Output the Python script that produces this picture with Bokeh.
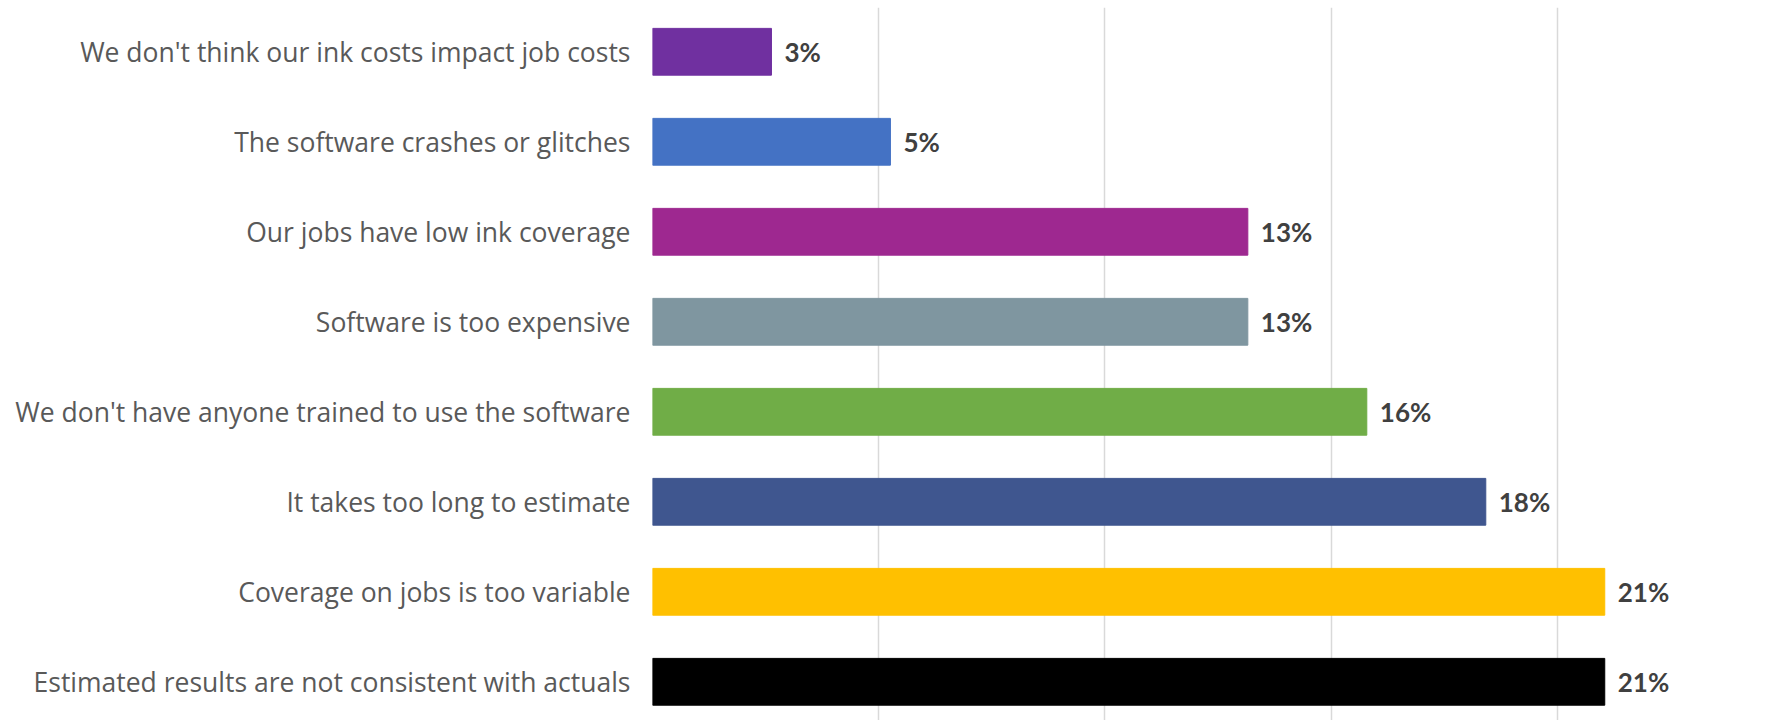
from bokeh.plotting import figure
from bokeh.models import ColumnDataSource, Range1d, FixedTicker, LabelSet
from bokeh.embed import file_html
from bokeh.resources import INLINE
from bokeh.core.properties import value

categories = [
    "We don't think our ink costs impact job costs",
    "The software crashes or glitches",
    "Our jobs have low ink coverage",
    "Software is too expensive",
    "We don't have anyone trained to use the software",
    "It takes too long to estimate",
    "Coverage on jobs is too variable",
    "Estimated results are not consistent with actuals",
]
percentages = [2.63, 5.26, 13.16, 13.16, 15.79, 18.42, 21.05, 21.05]
value_labels = ["3%", "5%", "13%", "13%", "16%", "18%", "21%", "21%"]
colors = ["#7030A0", "#4472C4", "#9E2890", "#7F96A0", "#70AD47", "#3F568F", "#FFC000", "#000000"]
x_ticks = [0, 5, 10, 15, 20, 25]

idx = list(range(len(categories)))
src = ColumnDataSource(dict(y=idx, v=percentages, lab=value_labels, c=colors))

p = figure(width=1773, height=720, output_backend="svg", toolbar_location=None,
           x_range=Range1d(0, 24.78), y_range=Range1d(7.43, -0.492),
           min_border_left=652, min_border_right=0, min_border_top=7, min_border_bottom=0)
p.outline_line_color = None
p.background_fill_color = "white"

p.hbar(y="y", right="v", left=0, height=0.52, color="c", source=src)

labels = LabelSet(x="v", y="y", text="lab", source=src, x_offset=13,
                  text_baseline="middle", text_align="left",
                  text_font=value("Lato"), text_font_style="bold",
                  text_font_size="26px", text_color="#404040")
p.add_layout(labels)

p.xaxis.visible = False
p.xgrid.ticker = FixedTicker(ticks=x_ticks)
p.xgrid.grid_line_color = "#D9D9D9"
p.xgrid.grid_line_width = 1.5
p.ygrid.visible = False

ya = p.yaxis[0]
ya.ticker = FixedTicker(ticks=idx)
ya.major_label_overrides = {i: c for i, c in zip(idx, categories)}
ya.axis_line_color = None
ya.major_tick_line_color = None
ya.minor_tick_line_color = None
ya.major_tick_out = 0
ya.major_label_standoff = 22
ya.major_label_text_font = "Open Sans"
ya.major_label_text_font_size = "26.5px"
ya.major_label_text_color = "#595959"

open("out.html", "w").write(file_html(p, INLINE))
